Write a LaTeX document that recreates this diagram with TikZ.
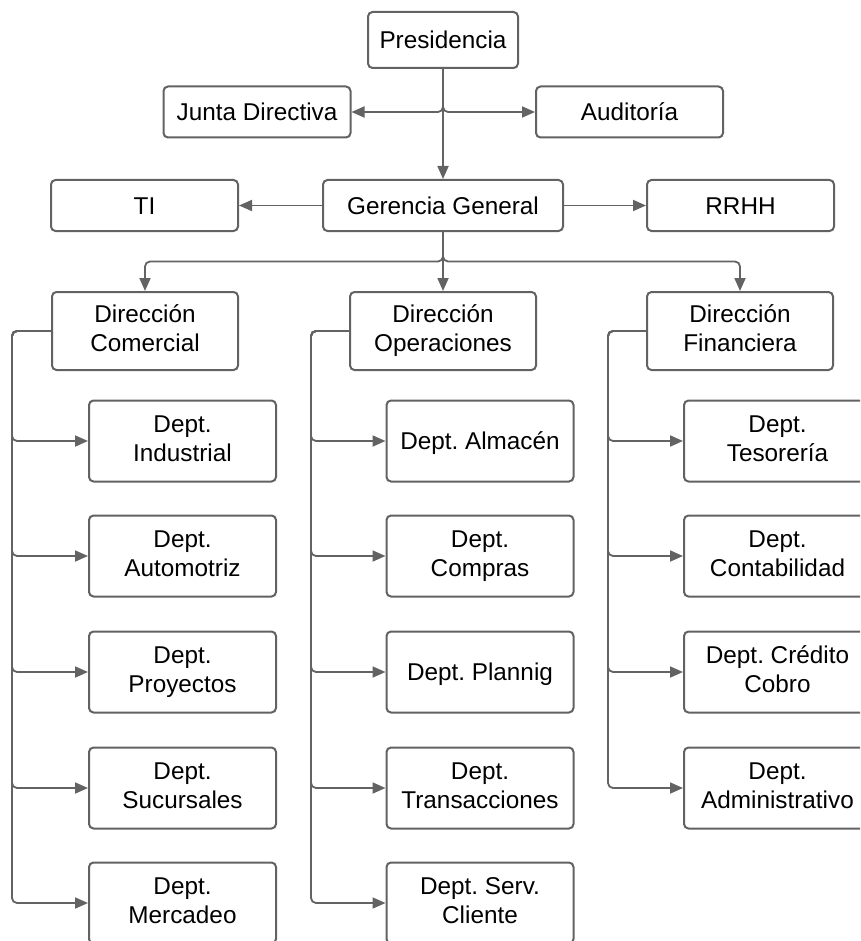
\documentclass[tikz,border=0pt]{standalone}
\usepackage{fontspec}
\setmainfont{Liberation Sans}
\usetikzlibrary{arrows.meta}
\definecolor{edgegray}{HTML}{626262}
\definecolor{linegray}{HTML}{636363}
\frenchspacing
% balanced strut: keeps every label optically centred in its box
\newcommand\boxstrut{\rule[-0.23em]{0pt}{1.18em}}
\begin{document}
\begin{tikzpicture}[x=1pt,y=-1pt,
  box/.style={draw=edgegray, line width=2pt, rounded corners=4.5pt, fill=white,
    align=center, inner sep=0pt, text=black,
    font=\fontsize{24.3}{29}\selectfont,
    execute at begin node=\boxstrut, execute at end node=\boxstrut},
  topbox/.style={box, minimum width=187pt, minimum height=51pt},
  dirbox/.style={box, minimum width=186pt, minimum height=78pt},
  deptbox/.style={box, minimum width=187pt, minimum height=81pt},
  link/.style={draw=linegray, line width=1.8pt, rounded corners=5pt,
    -{Triangle[length=13pt,width=11pt]}}]
\useasboundingbox (0,0) rectangle (860,941);
\clip (0,0) rectangle (860,941);

% upper levels
\node[box, minimum width=150pt, minimum height=56pt] (pres) at (443,40) {Presidencia};
\node[topbox] (junta) at (257,112) {Junta Directiva};
\node[topbox] (aud)   at (629.5,112) {Auditoría};
\node[box, minimum width=240pt, minimum height=51pt] (ger) at (443,205.5) {Gerencia General};
\node[topbox] (ti)    at (144.5,205.5) {TI};
\node[topbox] (rrhh)  at (740.5,205.5) {RRHH};

% directions
\node[dirbox] (dirC) at (145,331) {Dirección\\Comercial};
\node[dirbox] (dirO) at (443,331) {Dirección\\Operaciones};
\node[dirbox] (dirF) at (740,331) {Dirección\\Financiera};

% commercial departments
\node[deptbox] (c1) at (182.5,441) {Dept.\\Industrial};
\node[deptbox] (c2) at (182.5,556) {Dept.\\Automotriz};
\node[deptbox] (c3) at (182.5,672) {Dept.\\Proyectos};
\node[deptbox] (c4) at (182.5,788) {Dept.\\Sucursales};
\node[deptbox] (c5) at (182.5,903) {Dept.\\Mercadeo};

% operations departments
\node[deptbox] (o1) at (480,441) {Dept. Almacén};
\node[deptbox] (o2) at (480,556) {Dept.\\Compras};
\node[deptbox] (o3) at (480,672) {Dept. Plannig};
\node[deptbox] (o4) at (480,788) {Dept.\\Transacciones};
\node[deptbox] (o5) at (480,903) {Dept. Serv.\\Cliente};

% finance departments
\node[deptbox] (f1) at (777.5,441) {Dept.\\Tesorería};
\node[deptbox] (f2) at (777.5,556) {Dept.\\Contabilidad};
\node[deptbox] (f3) at (777.5,672) {Dept. Crédito\\Cobro};
\node[deptbox] (f4) at (777.5,788) {Dept.\\Administrativo};

% connectors between upper levels
\draw[link] (pres.south) |- (junta.east);
\draw[link] (pres.south) |- (aud.west);
\draw[link] (pres.south) -- (ger.north);
\draw[link] (ger.west) -- (ti.east);
\draw[link] (ger.east) -- (rrhh.west);
\draw[link] (ger.south) -- ++(0,29.5) -| (dirC.north);
\draw[link] (ger.south) -- (dirO.north);
\draw[link] (ger.south) -- ++(0,29.5) -| (dirF.north);

% department spines
\foreach \d in {c1,c2,c3,c4,c5}
  \draw[link] (dirC.west) -- ++(-39,0) |- (\d.west);
\foreach \d in {o1,o2,o3,o4,o5}
  \draw[link] (dirO.west) -- ++(-38,0) |- (\d.west);
\foreach \d in {f1,f2,f3,f4}
  \draw[link] (dirF.west) -- ++(-38,0) |- (\d.west);
\end{tikzpicture}
\end{document}
